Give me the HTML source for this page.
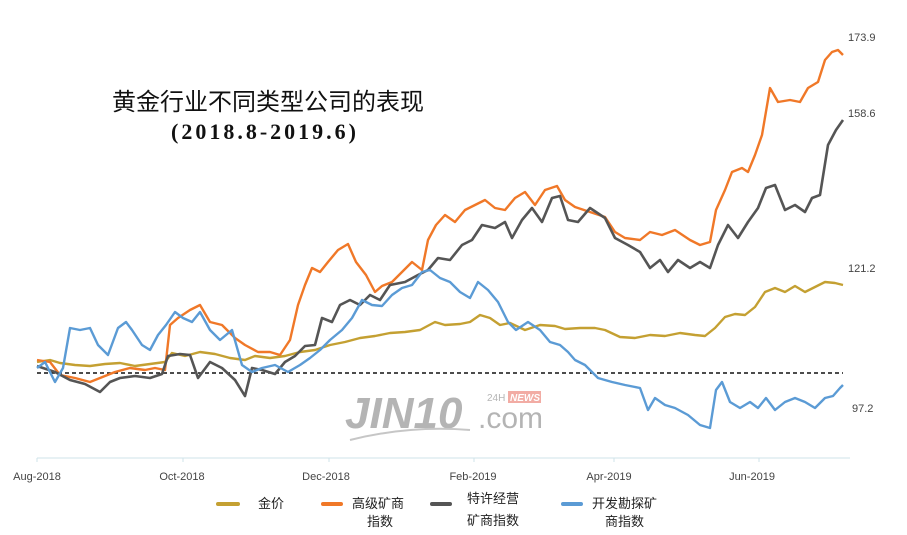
<!DOCTYPE html>
<html><head><meta charset="utf-8"><style>
html,body{margin:0;padding:0;background:#fff;}
svg{display:block;}
</style></head><body>
<svg width="907" height="535" viewBox="0 0 907 535" xmlns="http://www.w3.org/2000/svg">
<rect width="907" height="535" fill="#fff"/>
<text x="268" y="110" text-anchor="middle" font-family="Noto Sans CJK SC, sans-serif" font-size="24" fill="#111">黄金行业不同类型公司的表现</text>
<text x="265" y="139" text-anchor="middle" font-family="Liberation Serif, serif" font-size="22" font-weight="bold" letter-spacing="3" fill="#111">(2018.8-2019.6)</text>
<g font-family="Liberation Sans, sans-serif" font-size="11" fill="#444">
<text x="848" y="41">173.9</text>
<text x="848" y="117">158.6</text>
<text x="848" y="272">121.2</text>
<text x="852" y="412">97.2</text>
</g>
<g opacity="0.55">
<text x="345" y="428" font-family="Liberation Sans, sans-serif" font-size="44" font-style="italic" font-weight="bold" fill="#777">JIN10</text>
<text x="478" y="428" font-family="Liberation Sans, sans-serif" font-size="30" fill="#777">.com</text>
<text x="487" y="401" font-family="Liberation Sans, sans-serif" font-size="10" fill="#777">24H</text>
<rect x="508" y="391" width="33" height="12" fill="#e86a5a"/>
<text x="510" y="401" font-family="Liberation Sans, sans-serif" font-size="10" font-style="italic" font-weight="bold" fill="#fff">NEWS</text>
<path d="M350 440 Q410 425 470 430" stroke="#999" stroke-width="2" fill="none"/>
</g>
<line x1="37" y1="373" x2="843" y2="373" stroke="#111" stroke-width="1.5" stroke-dasharray="4,3"/>
<line x1="37" y1="458" x2="850" y2="458" stroke="#cfe3ea" stroke-width="1"/>
<g stroke="#cfe3ea"><line x1="37" y1="458" x2="37" y2="462"/><line x1="183" y1="458" x2="183" y2="462"/><line x1="329" y1="458" x2="329" y2="462"/><line x1="474" y1="458" x2="474" y2="462"/><line x1="614" y1="458" x2="614" y2="462"/><line x1="759" y1="458" x2="759" y2="462"/></g>
<g font-family="Liberation Sans Narrow, Liberation Sans, sans-serif" font-size="11" fill="#444" text-anchor="middle">
<text x="37" y="480">Aug-2018</text><text x="182" y="480">Oct-2018</text><text x="326" y="480">Dec-2018</text><text x="473" y="480">Feb-2019</text><text x="609" y="480">Apr-2019</text><text x="752" y="480">Jun-2019</text>
</g>
<g fill="none" stroke-width="2.4" stroke-linejoin="round">
<polyline stroke="#c4a032" points="37,362 50,360 60,363 75,365 90,366 105,364 120,363 135,366 150,364 165,362 172,353 185,356 200,352 215,354 230,358 245,360 255,356 270,358 285,356 300,352 315,350 330,345 345,342 360,338 375,336 390,333 405,332 420,330 435,322 445,325 460,324 470,322 480,315 490,318 500,325 510,323 525,330 540,325 555,326 565,329 580,328 595,328 605,330 620,337 635,338 650,335 665,336 680,333 695,335 705,336 715,328 725,317 735,314 745,315 755,307 765,292 775,288 785,292 795,286 805,292 815,287 825,282 835,283 843,285"/>
<polyline stroke="#f07828" points="37,360 50,362 60,375 75,378 90,382 100,378 115,372 130,368 145,370 155,368 165,370 170,325 178,318 190,310 200,305 210,322 222,325 235,338 245,345 258,352 270,352 280,355 290,340 298,305 305,285 312,268 320,272 328,262 338,250 348,244 356,262 366,275 375,292 382,286 392,282 402,272 412,262 422,270 428,240 436,225 445,215 455,222 465,210 475,205 485,200 495,208 505,210 515,198 525,192 535,205 545,190 557,186 565,200 575,207 590,212 605,217 615,232 625,238 640,240 650,232 662,235 675,230 690,240 700,245 710,242 716,210 725,190 732,172 742,168 748,172 755,155 762,135 770,88 778,102 790,100 800,102 808,88 818,82 825,60 832,52 838,50 843,55"/>
<polyline stroke="#555" stroke-width="2.6" points="37,366 55,372 70,380 85,384 100,392 110,382 120,378 135,376 150,378 162,374 168,356 180,354 190,355 198,378 210,362 222,368 235,380 245,396 252,368 262,370 275,374 285,362 295,356 305,346 315,345 322,318 332,322 340,305 350,300 360,305 370,295 380,300 390,285 405,282 418,275 428,270 438,258 450,260 462,245 472,240 482,225 495,228 505,222 512,238 522,220 532,208 542,222 552,198 560,196 568,220 578,222 590,208 605,218 615,238 628,245 640,252 650,268 660,260 668,272 678,260 690,268 700,262 710,268 718,245 728,225 738,238 748,222 758,208 766,188 775,185 785,210 795,205 805,212 812,198 820,195 828,145 836,130 843,120"/>
<polyline stroke="#5b9bd5" points="37,368 45,362 55,382 63,368 70,328 80,330 90,328 98,345 108,355 118,328 126,322 132,330 142,345 150,350 158,335 166,325 175,312 183,318 192,322 200,312 210,330 220,340 232,330 242,365 252,372 262,368 275,365 288,372 300,365 310,358 320,350 330,340 342,330 352,318 362,300 372,305 382,306 392,295 402,288 412,285 422,272 430,270 440,278 450,282 460,292 470,298 478,282 488,290 498,302 508,322 516,330 528,322 540,330 550,342 560,345 568,352 575,360 585,365 598,378 612,382 625,385 640,388 648,410 655,398 665,405 675,408 688,415 700,425 710,428 716,390 722,382 730,402 740,408 750,402 758,408 766,398 775,410 785,402 795,398 805,402 815,408 825,398 833,396 840,388 843,385"/>
</g>
<g stroke-width="4" stroke-linecap="round">
<line x1="218" y1="504" x2="238" y2="504" stroke="#c4a032"/>
<line x1="323" y1="504" x2="341" y2="504" stroke="#f07828"/>
<line x1="432" y1="504" x2="450" y2="504" stroke="#555"/>
<line x1="563" y1="504" x2="581" y2="504" stroke="#5b9bd5"/>
</g>
<g font-family="Noto Sans CJK SC, sans-serif" font-size="13" fill="#222">
<text x="258" y="508">金价</text>
<text x="352" y="508">高级矿商</text><text x="367" y="526">指数</text>
<text x="467" y="503">特许经营</text><text x="467" y="525">矿商指数</text>
<text x="592" y="508">开发勘探矿</text><text x="605" y="526">商指数</text>
</g>
</svg>
</body></html>
